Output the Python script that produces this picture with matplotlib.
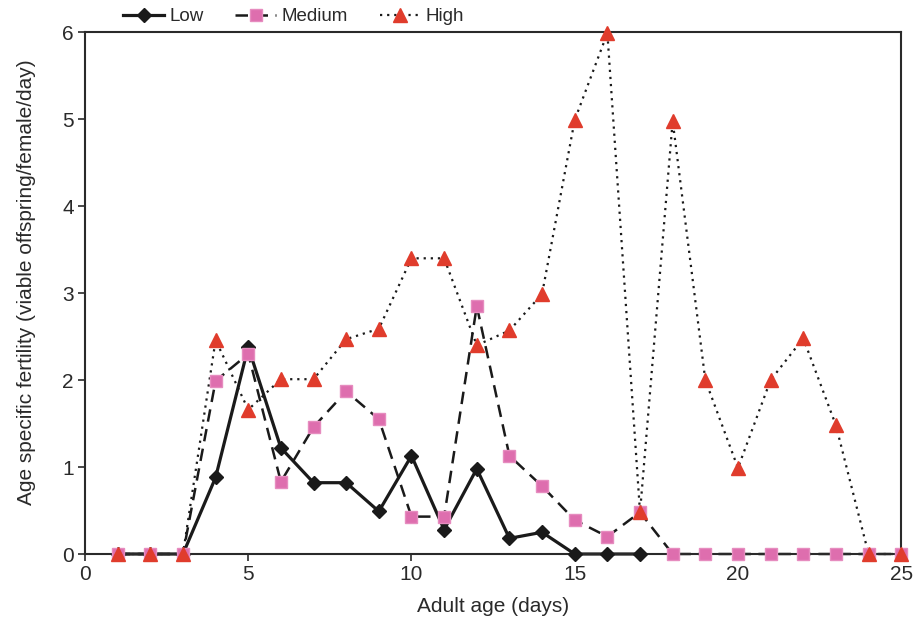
import matplotlib
matplotlib.use("Agg")
import matplotlib.pyplot as plt
from matplotlib.lines import Line2D

plt.rcParams['font.family'] = ['Liberation Sans', 'DejaVu Sans']

days = list(range(1, 26))
low_days = list(range(1, 18))
low = [0, 0, 0, 0.88, 2.38, 1.22, 0.82, 0.82, 0.49, 1.13, 0.28, 0.98, 0.18, 0.25, 0, 0, 0]
medium = [0, 0, 0, 1.99, 2.30, 0.83, 1.46, 1.87, 1.55, 0.43, 0.43, 2.85, 1.13, 0.78,
          0.39, 0.20, 0.48, 0, 0, 0, 0, 0, 0, 0, 0]
high = [0, 0, 0, 2.46, 1.66, 2.01, 2.01, 2.47, 2.59, 3.40, 3.40, 2.40, 2.57, 2.99,
        4.99, 5.99, 0.48, 4.98, 2.00, 0.99, 2.00, 2.48, 1.48, 0, 0]
xticks = [0, 5, 10, 15, 20, 25]
yticks = [0, 1, 2, 3, 4, 5, 6]

TXT = '#2a2a2a'
fig = plt.figure(figsize=(9.14, 6.19), dpi=100)
ax = fig.add_axes([0.093, 0.105, 0.893, 0.843])

styles = {
    'Low': dict(ls='-', lw=2.3, marker='D', ms=7, mfc='#1a1a1a', mec='#1a1a1a'),
    'Medium': dict(ls=(0, (5, 3)), lw=1.8, marker='s', ms=9, mfc='#DE6EAE', mec='#E68CBF'),
    'High': dict(ls=(0, (1, 2.2)), lw=1.6, marker='^', ms=10, mfc='#E03C2C', mec='#E03C2C'),
}
series = [('Low', low_days, low), ('Medium', days, medium), ('High', days, high)]

# lines first
for i, (name, xs, ys) in enumerate(series):
    st = styles[name]
    ax.plot(xs, ys, linestyle=st['ls'], lw=st['lw'], color='#1a1a1a',
            zorder=2 + i * 0.1, clip_on=False)
# markers on top
for i, (name, xs, ys) in enumerate(series):
    st = styles[name]
    ax.plot(xs, ys, linestyle='none', marker=st['marker'], ms=st['ms'],
            mfc=st['mfc'], mec=st['mec'], zorder=3 + i * 0.1, clip_on=False)

ax.set_xlim(0, 25)
ax.set_ylim(0, 6)
ax.set_xticks(xticks)
ax.set_yticks(yticks)
ax.tick_params(direction='out', length=5, width=1.2, labelsize=15, colors=TXT, pad=3)
for s in ax.spines.values():
    s.set_linewidth(1.5)
    s.set_color(TXT)

ax.set_xlabel('Adult age (days)', fontsize=15, color=TXT, labelpad=9)
ax.set_ylabel('Age specific fertility (viable offspring/female/day)', fontsize=15,
              color=TXT, labelpad=19)
ax.yaxis.label.set_y(0.521)

handles = []
for name in ['Low', 'Medium', 'High']:
    st = styles[name]
    handles.append(Line2D([], [], linestyle=st['ls'], lw=st['lw'], color='#1a1a1a',
                          marker=st['marker'], ms=st['ms'], mfc=st['mfc'], mec=st['mec']))
ax.legend(handles, ['Low', 'Medium', 'High'], loc='center left',
          bbox_to_anchor=(0.047, 1.03), ncol=3, frameon=False, fontsize=13.5,
          handlelength=2.15, columnspacing=1.7, handletextpad=0.3, borderpad=0,
          borderaxespad=0, labelcolor=TXT)

fig.savefig('out.png', dpi=100)
